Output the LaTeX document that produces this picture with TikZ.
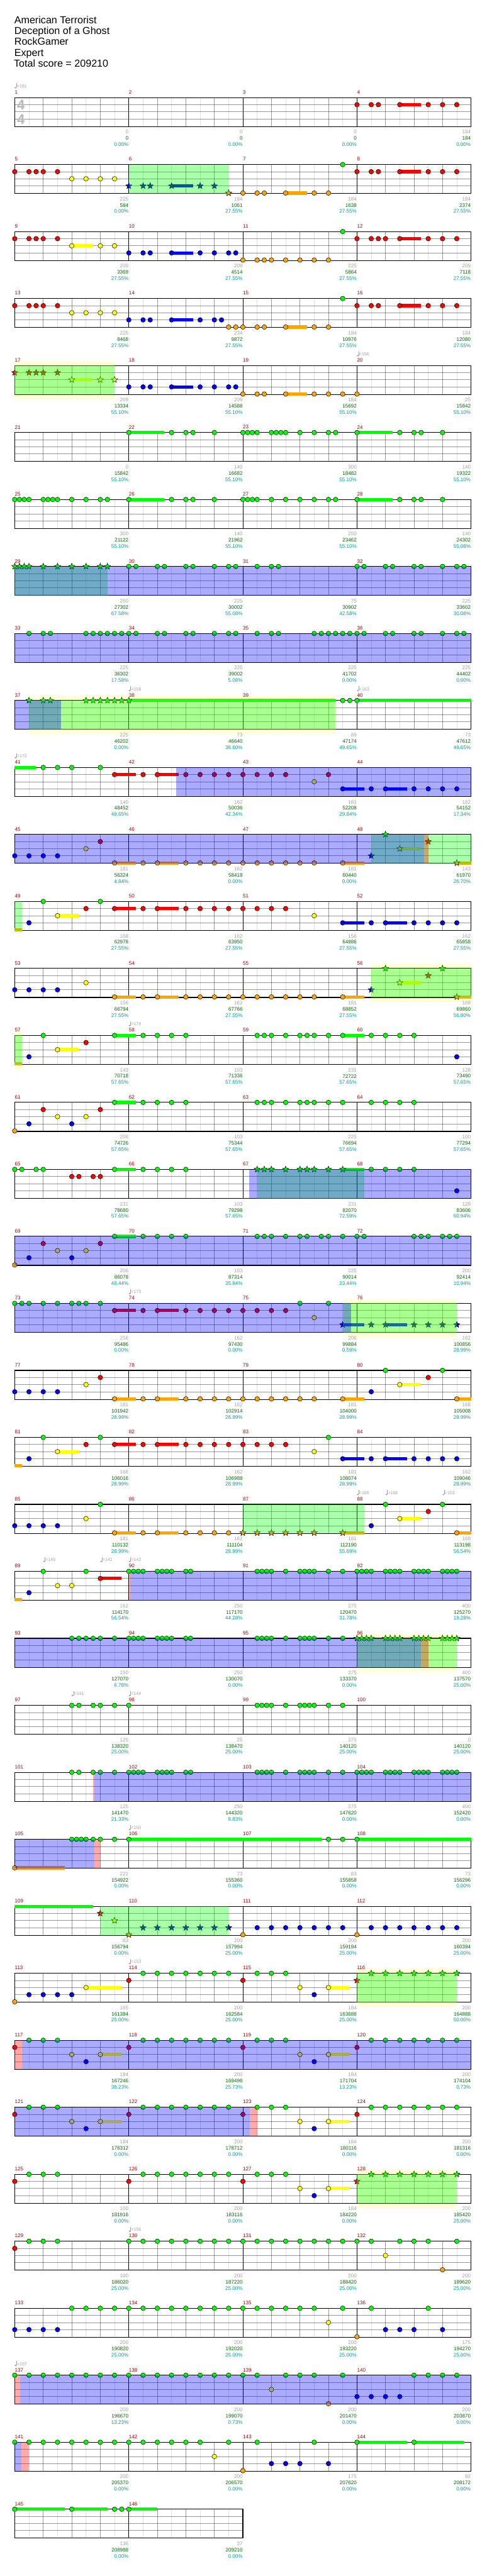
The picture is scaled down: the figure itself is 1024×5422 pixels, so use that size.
\documentclass[tikz,border=0pt]{standalone}
\usepackage{fontspec}
\setmainfont{Liberation Sans}
\definecolor{cG}{RGB}{0,255,0}
\definecolor{cR}{RGB}{255,0,0}
\definecolor{cY}{RGB}{255,255,0}
\definecolor{cB}{RGB}{0,0,255}
\definecolor{cO}{RGB}{255,165,0}
\definecolor{mred}{RGB}{153,0,0}
\definecolor{mgray}{RGB}{160,160,160}
\definecolor{mgreen}{RGB}{0,102,0}
\definecolor{mteal}{RGB}{0,153,153}
\tikzset{
  note/.style={draw=black, line width=.5pt},
  egrid/.style={draw=black, draw opacity=.13, line width=.75pt},
  qgrid/.style={draw=black, draw opacity=.4, line width=.75pt},
  bar/.style={draw=black, line width=.75pt},
  frame/.style={draw=black, line width=1.1pt},
  mnum/.style={anchor=west, inner sep=0pt, text=mred, font=\fontsize{8}{9}\selectfont},
  gpts/.style={anchor=east, inner sep=0pt, text=mgray, font=\fontsize{8}{9}\selectfont},
  spts/.style={anchor=east, inner sep=0pt, text=mgreen, font=\fontsize{8}{9}\selectfont},
  ppts/.style={anchor=east, inner sep=0pt, text=mteal, font=\fontsize{8}{9}\selectfont},
  tmp/.style={anchor=west, inner sep=0pt, text=mgray, font=\fontsize{7}{8}\selectfont},
  tsig/.style={inner sep=0pt, text=black!28, font=\fontsize{22}{22}\selectfont\bfseries},
  ttl/.style={anchor=base west, inner sep=0pt, font=\fontsize{16}{18}\selectfont}
}
% notes, stars, sustains, zones (inside a row: x in 16ths, y in lanes)
\newcommand{\nt}[3]{\foreach \p in {#3}{\filldraw[note, fill=#1] (\p,#2) circle[radius=.33];}}
\newcommand{\st}[3]{\foreach \p in {#3}{\filldraw[note, fill=#1] (\p,#2) +(-90:.46) -- +(-54:.2) -- +(-18:.46) -- +(18:.2) -- +(54:.46) -- +(90:.2) -- +(126:.46) -- +(162:.2) -- +(198:.46) -- +(234:.2) -- cycle;}}
\newcommand{\sus}[4]{\fill[#1] (#3,#2-.23) rectangle (#4,#2+.23);}
\newcommand{\gz}[2]{\fill[cG, fill opacity=.333] (#1,0) rectangle (#2,4.07);}
\newcommand{\bz}[2]{\fill[cB, fill opacity=.333] (#1,0) rectangle (#2,4.07);}
\newcommand{\pz}[2]{\fill[cR, fill opacity=.333] (#1,0) rectangle (#2,4.07);}
\newcommand{\yz}[2]{\fill[cY, fill opacity=.15] (#1,-.67) rectangle (#2,4.8);}
\newcommand{\tempo}[2]{%
  \fill[mgray] (#1+.12,-1.38) ellipse[x radius=.15, y radius=.1];
  \draw[mgray, line width=.4pt] (#1+.26,-1.38) -- (#1+.26,-2.0);
  \node[tmp] (t#1) at (#1+.3,-1.6) {=#2};}
% one staff row: #1 row, #2 length in 16ths, #3 notes, #4 zones, #5 labels
\newcommand{\Row}[5]{%
  \pgfmathsetmacro{\Y}{205.33+141*(#1-1)}%
  \pgfmathtruncatemacro{\Len}{#2}%
  \begin{scope}[shift={(31,\Y)}, x=11.25pt, y=-11.25pt]
    \foreach \q in {2,6,...,\Len} \draw[egrid] (\q,0) -- (\q,4.07);
    \foreach \q in {4,8,...,\Len} \draw[qgrid] (\q,0) -- (\q,4.07);
    \foreach \q in {1,2,3} \draw[qgrid] (0,\q) -- (\Len,\q);
    \foreach \q in {16,32,...,\Len} \draw[bar] (\q,0) -- (\q,4.07);
    \draw[frame] (0,0) rectangle (\Len,4.07);
    #3
    #4
    \foreach \gv/\sv/\pv [count=\k] in {#5} {
      \pgfmathtruncatemacro{\m}{4*(#1-1)+\k}
      \node[mnum] (m\m) at (16*\k-16,-.75) {\m};
      \node[gpts] (g\m) at (16*\k-.03,4.85) {\gv};
      \node[spts] (s\m) at (16*\k-.03,5.72) {\sv};
      \node[ppts] (p\m) at (16*\k-.03,6.58) {\pv\%};
    }
  \end{scope}}

\begin{document}
\begin{tikzpicture}[x=0.75pt, y=-0.75pt]
  \useasboundingbox (0,0) rectangle (1024,5422);

  % Header
  \node[ttl] (title1) at (30,49) {American Terrorist};
  \node[ttl] (title2) at (30,72) {Deception of a Ghost};
  \node[ttl] (title3) at (30,95) {RockGamer};
  \node[ttl] (title4) at (30,118) {Expert};
  \node[ttl] (title5) at (29,141) {Total score = 209210};

  % measures 1-4
  \Row{1}{64}{
    \node[tsig] (ts1) at (.87,1.05) {4}; \node[tsig] (ts2) at (.87,3.05) {4};
    \tempo{0}{161}
    \sus{cR}{1}{54}{57}
    \nt{cR}{1}{48,50,51,54,58,60,62}
  }{}{0/0/0.00, 0/0/0.00, 0/0/0.00, 184/184/0.00}

  % measures 5-8
  \Row{2}{64}{
    \sus{cB}{3}{22}{25} \sus{cO}{4}{38}{41} \sus{cR}{1}{54}{57}
    \nt{cR}{1}{0,2,3,4,6} \nt{cY}{2}{8,10,12,14}
    \st{cB}{3}{16,18,19,22,26,28} \st{cO}{4}{30}
    \nt{cO}{4}{32,34,35,38,42,44} \nt{cG}{0}{46} \nt{cR}{1}{48,50,51,54,58,60,62}
  }{\gz{16}{30}}{225/584/0.00, 184/1061/27.55, 184/1638/27.55, 184/2374/27.55}

  % measures 9-12
  \Row{3}{64}{
    \sus{cY}{2}{8}{11} \sus{cB}{3}{22}{25} \sus{cR}{1}{54}{57}
    \nt{cR}{1}{0,2,3,4,6} \nt{cY}{2}{8,12,14} \nt{cB}{3}{16,18,19,22,26,28,30,31}
    \nt{cO}{4}{32,34,35,36,38,40,42,44} \nt{cG}{0}{46} \nt{cR}{1}{48,50,51,52,54,58,60,62}
  }{}{209/3369/27.55, 209/4514/27.55, 225/5864/27.55, 209/7118/27.55}

  % measures 13-16
  \Row{4}{64}{
    \sus{cB}{3}{22}{25} \sus{cO}{4}{38}{41} \sus{cR}{1}{54}{57}
    \nt{cR}{1}{0,2,3,4,6} \nt{cY}{2}{8,10,12,14} \nt{cB}{3}{16,18,19,22,26,28,29}
    \nt{cO}{4}{30,31,32,34,35,38,42,44} \nt{cG}{0}{46} \nt{cR}{1}{48,50,51,54,58,60,62}
  }{}{225/8468/27.55, 234/9872/27.55, 184/10976/27.55, 184/12080/27.55}

  % measures 17-20
  \Row{5}{64}{
    \tempo{48}{156}
    \sus{cY}{2}{8}{11} \sus{cB}{3}{22}{25} \sus{cO}{4}{38}{41}
    \st{cR}{1}{0,2,3,4,6} \st{cY}{2}{8,12,14} \nt{cB}{3}{16,18,19,22,26,28,30,31}
    \nt{cO}{4}{32,34,35,38,42,44,46,48}
  }{\yz{0}{14} \gz{0}{14}}{209/13334/55.10, 209/14588/55.10, 184/15692/55.10, 25/15842/55.10}

  % measures 21-24
  \Row{6}{64}{
    \sus{cG}{0}{16}{21} \sus{cG}{0}{48}{53}
    \nt{cG}{0}{16,22,24,25,28,32,32.67,33.33,34,36,36.67,37.33,38,40,42,44,45,48,54,56,57,60}
  }{}{0/15842/55.10, 140/16682/55.10, 300/18482/55.10, 140/19322/55.10}

  % measures 25-28
  \Row{7}{64}{
    \sus{cG}{0}{16}{21} \sus{cG}{0}{48}{53}
    \nt{cG}{0}{0,.67,1.33,2,4,4.67,5.33,6,8,10,12,13,16,22,24,25,28,32,32.67,33.33,34,36,38,40,42,44,45,48,54,56,57,60}
  }{}{300/21122/55.10, 140/21962/55.10, 250/23462/55.10, 140/24302/55.08}

  % measures 29-32
  \Row{8}{64}{
    \st{cG}{0}{0,.67,1.33,2,4,6,8,10,12,13}
    \nt{cG}{0}{16,17,20,21,24,25,28,30,31,34,36,37,48,49,52,53,56,57,60,62,63}
  }{\gz{0}{13} \bz{0}{64}}{250/27302/67.58, 225/30002/55.08, 75/30902/42.58, 225/33602/30.08}

  % measures 33-36
  \Row{9}{64}{
    \nt{cG}{0}{2,4,5,10,11,12,13,14,15,16,17,20,21,24,25,28,30,31,34,36,37,42,43,44,45,46,47,48,49,52,53,56,57,60,62,63}
  }{\bz{0}{64}}{225/36302/17.58, 225/39002/5.08, 225/41702/0.00, 225/44402/0.00}

  % measures 37-40
  \Row{10}{64}{
    \tempo{16}{158} \tempo{48}{163}
    \sus{cG}{0}{16}{45} \sus{cG}{0}{48}{64}
    \st{cG}{0}{2,4,5,10,11,12,13,14,15,16}
    \nt{cG}{0}{46,47,48}
  }{\yz{2}{45} \gz{2}{45} \bz{0}{6.45}}{225/46202/0.00, 73/46640/38.60, 89/47174/49.65, 73/47612/49.65}

  % measures 41-44
  \Row{11}{64}{
    \tempo{0}{172}
    \sus{cG}{0}{0}{3} \sus{cR}{1}{14}{17} \sus{cR}{1}{20}{23} \sus{cB}{3}{46}{49} \sus{cB}{3}{52}{55}
    \nt{cG}{0}{4,6,8,12} \nt{cR}{1}{14,18,20,24,26,28,30,32,34,36,38,44} \nt{cY}{2}{42}
    \nt{cB}{3}{46,50,52,56,58,60,62}
  }{\bz{22.6}{64}}{140/48452/49.65, 162/50036/42.34, 181/52208/29.84, 162/54152/17.34}

  % measures 45-48
  \Row{12}{64}{
    \sus{cO}{4}{14}{17} \sus{cO}{4}{20}{23} \sus{cO}{4}{46}{49} \sus{cY}{2}{54}{57} \sus{cO}{4}{62}{64}
    \nt{cB}{3}{0,2,4,6} \nt{cY}{2}{10} \nt{cR}{1}{12} \nt{cO}{4}{14,18,20,24,26,28,30,32,34,36,38,40,42,46}
    \st{cB}{3}{50} \st{cG}{0}{52} \st{cY}{2}{54} \st{cR}{1}{58} \st{cO}{4}{62}
  }{\gz{50}{64} \bz{0}{57.4} \pz{57.4}{58}}{181/56324/4.84, 162/58418/0.00, 181/60440/0.00, 143/61970/26.70}

  % measures 49-52
  \Row{13}{64}{
    \sus{cO}{4}{0}{1} \sus{cY}{2}{6}{9} \sus{cR}{1}{14}{17} \sus{cR}{1}{20}{23} \sus{cB}{3}{46}{49} \sus{cB}{3}{52}{55}
    \nt{cB}{3}{2} \nt{cG}{0}{4,12} \nt{cY}{2}{6,42} \nt{cR}{1}{10,14,18,20,24,26,28,30,32,34,36,38}
    \nt{cB}{3}{46,50,52,56,58,60,62}
  }{\gz{0}{1}}{168/62978/27.55, 162/63950/27.55, 156/64886/27.55, 162/65858/27.55}

  % measures 53-56
  \Row{14}{64}{
    \sus{cO}{4}{14}{17} \sus{cO}{4}{20}{23} \sus{cO}{4}{46}{49} \sus{cY}{2}{54}{57} \sus{cO}{4}{62}{64}
    \nt{cB}{3}{0,2,4,6} \nt{cY}{2}{10} \nt{cO}{4}{14,18,20,24,26,28,30,32,34,36,38,40,42,46}
    \st{cB}{3}{50} \st{cG}{0}{52,60} \st{cY}{2}{54} \st{cR}{1}{58} \st{cO}{4}{62}
  }{\yz{50}{64} \gz{50}{64}}{156/66794/27.55, 162/67766/27.55, 181/68852/27.55, 168/69860/56.80}

  % measures 57-60
  \Row{15}{64}{
    \tempo{16}{174}
    \sus{cO}{4}{0}{1} \sus{cY}{2}{6}{9} \sus{cG}{0}{14}{17} \sus{cG}{0}{46}{49}
    \nt{cB}{3}{2,62} \nt{cY}{2}{6} \nt{cR}{1}{10}
    \nt{cG}{0}{4,14,18,20,22,24,34,35,36,38,40,41,42,44,46,50,52,54,56}
  }{\yz{0}{1} \gz{0}{1}}{143/70718/57.65, 103/71336/57.65, 231/72722/57.65, 128/73490/57.65}

  % measures 61-64
  \Row{16}{64}{
    \sus{cG}{0}{14}{17}
    \nt{cO}{4}{0} \nt{cB}{3}{2,8} \nt{cR}{1}{4,12} \nt{cY}{2}{6,10}
    \nt{cG}{0}{14,18,20,22,24,34,35,36,38,40,41,42,44,46,50,52,54,56}
  }{}{206/74726/57.65, 103/75344/57.65, 225/76694/57.65, 100/77294/57.65}

  % measures 65-68
  \Row{17}{64}{
    \sus{cG}{0}{14}{17} \sus{cG}{0}{46}{49}
    \nt{cG}{0}{0,1,3,4,14,18,20,22,24} \nt{cR}{1}{8,9,11,12}
    \st{cG}{0}{34,35,36,38,40,41,42,44,46}
    \nt{cG}{0}{50,52,54,56} \nt{cB}{3}{62}
  }{\gz{34}{49} \bz{32.9}{64}}{231/78680/57.65, 103/79298/57.65, 231/82070/72.59, 128/83606/60.94}

  % measures 69-72
  \Row{18}{64}{
    \sus{cG}{0}{14}{17}
    \nt{cO}{4}{0} \nt{cB}{3}{2,8} \nt{cR}{1}{4,12} \nt{cY}{2}{6,10}
    \nt{cG}{0}{14,18,20,22,24,34,35,36,38,40,41,43,44,46,48,49,56,57,58,60,61,62}
  }{\bz{0}{64}}{206/86078/48.44, 103/87314/35.94, 225/90014/23.44, 200/92414/10.94}

  % measures 73-76
  \Row{19}{64}{
    \tempo{16}{173}
    \sus{cR}{1}{14}{17} \sus{cR}{1}{20}{23} \sus{cB}{3}{46}{49} \sus{cB}{3}{52}{55}
    \nt{cG}{0}{0,1,2,4,6,8,9,10,12,40,44} \nt{cR}{1}{14,18,20,24,26,28,30,32,34,36,38} \nt{cY}{2}{42}
    \st{cB}{3}{46,50,52,56,58,60,62}
  }{\yz{46}{62} \gz{46}{62} \bz{0}{47.2}}{256/95486/0.00, 162/97430/0.00, 206/99884/0.59, 162/100856/28.99}

  % measures 77-80
  \Row{20}{64}{
    \sus{cO}{4}{14}{17} \sus{cO}{4}{20}{23} \sus{cO}{4}{46}{49} \sus{cY}{2}{54}{57} \sus{cO}{4}{62}{64}
    \nt{cB}{3}{0,2,4,6,50} \nt{cY}{2}{10,54} \nt{cR}{1}{12,58} \nt{cG}{0}{52,60}
    \nt{cO}{4}{14,18,20,24,26,28,30,32,34,36,38,40,42,46,62}
  }{}{181/101942/28.99, 162/102914/28.99, 181/104000/28.99, 168/105008/28.99}

  % measures 81-84
  \Row{21}{64}{
    \sus{cO}{4}{0}{1} \sus{cY}{2}{6}{9} \sus{cR}{1}{14}{17} \sus{cR}{1}{20}{23} \sus{cB}{3}{46}{49} \sus{cB}{3}{52}{55}
    \nt{cB}{3}{2,46,50,52,56,58,60,62} \nt{cG}{0}{4,12,44} \nt{cY}{2}{6,42}
    \nt{cR}{1}{10,14,18,20,24,26,28,30,32,34,36,38}
  }{}{168/106016/28.99, 162/106988/28.99, 181/108074/28.99, 162/109046/28.99}

  % measures 85-88
  \Row{22}{64}{
    \tempo{48}{165} \tempo{52}{168} \tempo{60}{153}
    \sus{cO}{4}{14}{17} \sus{cO}{4}{20}{23} \sus{cO}{4}{46}{49} \sus{cY}{2}{54}{57} \sus{cO}{4}{62}{64}
    \nt{cB}{3}{0,2,4,6,50} \nt{cY}{2}{10,54} \nt{cG}{0}{12,52,60} \nt{cR}{1}{58}
    \nt{cO}{4}{14,18,20,24,26,28,30,62}
    \st{cO}{4}{32,34,36,38,40,42,46}
  }{\gz{32}{49}}{181/110132/28.99, 162/111104/28.99, 181/112190/55.69, 168/113198/56.54}

  % measures 89-92
  \Row{23}{64}{
    \tempo{4}{140} \tempo{12}{141} \tempo{16}{142}
    \sus{cO}{4}{0}{1} \sus{cR}{1}{12}{15}
    \nt{cB}{3}{2} \nt{cG}{0}{4,10} \nt{cY}{2}{6,8} \nt{cR}{1}{12}
    \nt{cG}{0}{16,16.67,17.33,18,20,20.67,21.33,22,24,24.67,34,34.67,35.33,36,38,40,40.67,41.33,42,44,46,48,48.67,49.33,50,52,52.67,53.33,54,56,56.67,57.33,58,60,60.67,61.33,62}
  }{\pz{16}{16.2} \bz{16.2}{64}}{162/114170/56.54, 250/117170/44.28, 275/120470/31.78, 400/125270/19.28}

  % measures 93-96
  \Row{24}{64}{
    \nt{cG}{0}{8,9,10,11,12,14,16,16.67,17.33,18,20,20.67,21.33,22,24,24.67,34,34.67,35.33,36,38,40,40.67,41.33,42,44,46}
    \st{cG}{0}{48,48.67,49.33,50,52,52.67,53.33,54,56,56.67,57.33,58,60,60.67,61.33,62}
  }{\yz{48}{62} \gz{48}{62} \bz{0}{57} \pz{57}{58}}{150/127070/6.78, 250/130070/0.00, 275/133370/0.00, 400/137570/25.00}

  % measures 97-100
  \Row{25}{64}{
    \tempo{8}{141} \tempo{16}{144}
    \nt{cG}{0}{8,9,11,12,14,16,34,34.67,35.33,36,38,40,40.67,41.33,42,44,46}
  }{}{125/138320/25.00, 25/138470/25.00, 275/140120/25.00, 0/140120/25.00}

  % measures 101-104
  \Row{26}{64}{
    \nt{cG}{0}{8,9,11,12,14,16,16.67,17.33,18,20,20.67,21.33,22,24,24.67,34,34.67,35.33,36,38,40,40.67,41.33,42,44,46,48,48.67,49.33,50,52,52.67,53.33,54,56,56.67,57.33,58,60,60.67,61.33,62}
  }{\pz{11}{11.2} \bz{11.2}{64}}{125/141470/21.33, 250/144320/8.83, 275/147620/0.00, 400/152420/0.00}

  % measures 105-108
  \Row{27}{64}{
    \tempo{16}{150}
    \sus{cO}{4}{0}{7} \sus{cG}{0}{16}{43} \sus{cG}{0}{48}{64}
    \nt{cO}{4}{0} \nt{cG}{0}{8,8.67,9.33,10,11,12,14,16,44,46,48}
  }{\bz{0}{11.2} \pz{11.2}{12}}{221/154922/0.00, 73/155360/0.00, 83/155858/0.00, 73/156296/0.00}

  % measures 109-112
  \Row{28}{64}{
    \sus{cG}{0}{0}{11}
    \st{cR}{1}{12} \st{cY}{2}{14} \st{cO}{4}{16} \st{cB}{3}{18,20,22,24,26,28,30}
    \nt{cO}{4}{32,48} \nt{cB}{3}{34,36,38,40,42,44,46,50,52,54,56,58,60,62}
  }{\gz{12}{30}}{83/156794/0.00, 200/157994/25.00, 200/159194/25.00, 200/160394/25.00}

  % measures 113-116
  \Row{29}{64}{
    \tempo{16}{153}
    \sus{cY}{2}{10}{15} \sus{cY}{2}{44}{47}
    \nt{cO}{4}{0} \nt{cB}{3}{2,4,6,8,42} \nt{cY}{2}{10,40,44} \nt{cR}{1}{16,32}
    \nt{cG}{0}{18,20,22,24,26,28,30,34,36,38}
    \st{cR}{1}{48} \st{cG}{0}{50,52,54,56,58,60,62}
  }{\yz{48}{62} \gz{48}{62}}{165/161384/25.00, 200/162584/25.00, 184/163688/25.00, 200/164888/50.00}

  % measures 117-120
  \Row{30}{64}{
    \sus{cY}{2}{12}{15} \sus{cY}{2}{44}{47}
    \nt{cR}{1}{0,16,32,48} \nt{cY}{2}{8,12,40,44} \nt{cB}{3}{10,42}
    \nt{cG}{0}{2,4,6,18,20,22,24,26,28,30,34,36,38,50,52,54,56,58,60,62}
  }{\pz{0}{1} \bz{1}{64}}{184/167246/38.23, 200/169496/25.73, 184/171704/13.23, 200/174104/0.73}

  % measures 121-124
  \Row{31}{64}{
    \sus{cY}{2}{12}{15} \sus{cY}{2}{44}{47}
    \nt{cR}{1}{0,16,32,48} \nt{cY}{2}{8,12,40,44} \nt{cB}{3}{10,42}
    \nt{cG}{0}{2,4,6,18,20,22,24,26,28,30,34,36,38,50,52,54,56,58,60,62}
  }{\bz{0}{33} \pz{33}{34}}{184/176312/0.00, 200/178712/0.00, 184/180116/0.00, 200/181316/0.00}

  % measures 125-128
  \Row{32}{64}{
    \sus{cY}{2}{44}{47}
    \nt{cR}{1}{0,16,32} \nt{cY}{2}{40,44} \nt{cB}{3}{42}
    \nt{cG}{0}{2,4,6,18,20,22,24,26,28,30,34,36,38}
    \st{cR}{1}{48} \st{cG}{0}{50,52,54,56,58,60,62}
  }{\yz{48}{62} \gz{48}{62}}{100/181916/0.00, 200/183116/0.00, 184/184220/0.00, 200/185420/25.00}

  % measures 129-132
  \Row{33}{64}{
    \tempo{16}{155}
    \nt{cR}{1}{0} \nt{cY}{2}{52} \nt{cO}{4}{60}
    \nt{cG}{0}{2,4,6,16,18,20,22,24,26,28,30,32,34,36,38,40,42,44,46,48,50,54,56,58,62}
  }{}{100/186020/25.00, 200/187220/25.00, 200/188420/25.00, 200/189620/25.00}

  % measures 133-136
  \Row{34}{64}{
    \nt{cB}{3}{0,2,4,6,52,54,56,60} \nt{cY}{2}{44} \nt{cO}{4}{48}
    \nt{cG}{0}{8,10,12,14,16,18,20,22,24,26,28,30,32,34,36,38,40,42,46,50,58}
  }{}{200/190820/25.00, 200/192020/25.00, 200/193220/25.00, 175/194270/25.00}

  % measures 137-140
  \Row{35}{64}{
    \tempo{0}{157}
    \nt{cY}{2}{36} \nt{cO}{4}{44} \nt{cB}{3}{48,50,52,54}
    \nt{cG}{0}{0,2,4,6,8,10,12,14,16,18,20,22,24,26,28,30,32,34,38,40,42,46,56,58,60,62}
  }{\pz{0}{.8} \bz{.8}{64}}{200/196670/13.23, 200/199070/0.73, 200/201470/0.00, 200/203870/0.00}

  % measures 141-144
  \Row{36}{64}{
    \sus{cG}{0}{48}{55} \sus{cG}{0}{56}{63}
    \nt{cY}{2}{28} \nt{cO}{4}{32} \nt{cB}{3}{36,38,40,44}
    \nt{cG}{0}{0,2,4,6,8,10,12,14,16,18,20,22,24,26,30,34,42,48,56}
  }{\bz{0}{.9} \pz{.9}{2}}{200/205370/0.00, 200/206570/0.00, 175/207620/0.00, 92/208172/0.00}

  % measures 145-146
  \Row{37}{32}{
    \sus{cG}{0}{0}{7} \sus{cG}{0}{8}{13} \sus{cG}{0}{16}{20}
    \nt{cG}{0}{0,8,14,15,16}
  }{}{136/208988/0.00, 37/209210/0.00}
\end{tikzpicture}
\end{document}
